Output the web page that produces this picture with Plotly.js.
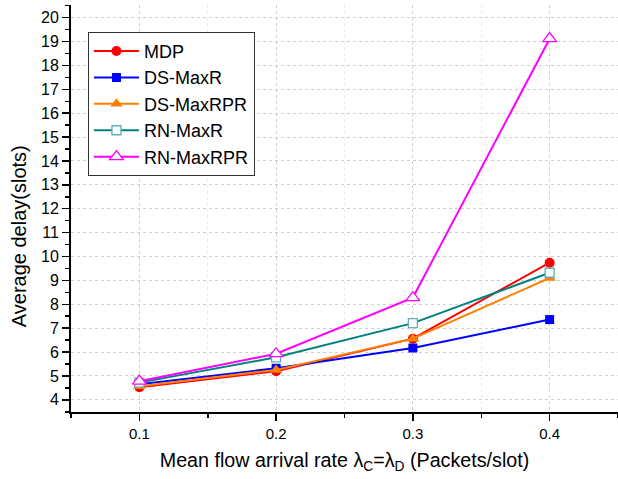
<!DOCTYPE html>
<html>
<head>
<meta charset="utf-8">
<script src="https://cdn.plot.ly/plotly-3.0.1.min.js"></script>
<style>html,body{margin:0;padding:0;background:#fff;}#chart{width:618px;height:479px;}</style>
</head>
<body>
<div id="chart"></div>
<script>
const xValues = [0.1, 0.2, 0.3, 0.4];
const seriesNames = ["MDP", "DS-MaxR", "DS-MaxRPR", "RN-MaxR", "RN-MaxRPR"];
const mdp = [4.53, 5.2, 6.56, 9.74];
const dsMaxR = [4.65, 5.32, 6.17, 7.36];
const dsMaxRPR = [4.57, 5.25, 6.56, 9.1];
const rnMaxR = [4.72, 5.78, 7.21, 9.32];
const rnMaxRPR = [4.78, 5.93, 8.28, 19.12];
const xTickVals = [0.1, 0.2, 0.3, 0.4];
const xTickText = ["0.1", "0.2", "0.3", "0.4"];
const yTickVals = [4,5,6,7,8,9,10,11,12,13,14,15,16,17,18,19,20];
const xTitle = "Mean flow arrival rate λ<sub>C</sub>=λ<sub>D</sub> (Packets/slot)";
const yTitle = "Average delay(slots)";

const styles = [
  {color:'#ff0000', symbol:'circle', fill:'#ff0000', size:10},
  {color:'#0000ff', symbol:'square', fill:'#0000ff', size:9},
  {color:'#ff8000', symbol:'triangle-up', fill:'#ff8000', size:11},
  {color:'#008080', symbol:'square', fill:'#ffffff', lineColor:'#5fb0b0', size:9},
  {color:'#ff00ff', symbol:'triangle-up', fill:'#ffffff', lineColor:'#ff00ff', size:12}
];
const allSeries = [mdp, dsMaxR, dsMaxRPR, rnMaxR, rnMaxRPR];

const traces = allSeries.map((ys, i) => ({
  x: xValues, y: ys, name: seriesNames[i], type: 'scatter', mode: 'lines+markers',
  line: {color: styles[i].color, width: 2},
  marker: {symbol: styles[i].symbol, size: styles[i].size, color: styles[i].fill,
           line: {color: styles[i].lineColor || styles[i].color, width: styles[i].lineColor ? 1.3 : 0}}
}));

const font = "'Liberation Sans', Arial, sans-serif";
const layout = {
  width: 618, height: 479,
  margin: {l: 71, r: 0, t: 5, b: 67},
  paper_bgcolor: '#ffffff', plot_bgcolor: '#ffffff',
  font: {family: font, color: '#000', size: 15},
  showlegend: true,
  legend: {x: 0.031, y: 0.934, xanchor: 'left', yanchor: 'top',
           bgcolor: '#ffffff', bordercolor: '#333333', borderwidth: 1,
           font: {family: font, size: 18, color: '#000'}, itemwidth: 45,
           tracegroupgap: 0},
  xaxis: {
    range: [0.05, 0.45], tickvals: xTickVals, ticktext: xTickText,
    ticks: 'outside', ticklen: 7, tickwidth: 1.5, tickcolor: '#000',
    showline: true, linecolor: '#000', linewidth: 2, mirror: false, zeroline: false,
    showgrid: true, gridcolor: '#cfcfcf', griddash: 'dot', gridwidth: 1,
    tickfont: {size: 15, family: font},
    minor: {dtick: 0.05, tick0: 0.05, ticks: 'outside', ticklen: 4, tickwidth: 1.5, tickcolor: '#000',
            showgrid: true, gridcolor: '#ececec', gridwidth: 1},
    title: {text: xTitle, font: {size: 19.7, family: font}, standoff: 12}
  },
  yaxis: {
    range: [3.49, 20.53], tickvals: yTickVals,
    ticks: 'outside', ticklen: 7, tickwidth: 1.5, tickcolor: '#000',
    showline: true, linecolor: '#000', linewidth: 2, mirror: false, zeroline: false,
    showgrid: true, gridcolor: '#cfcfcf', griddash: 'dot', gridwidth: 1,
    tickfont: {size: 16, family: font},
    minor: {dtick: 0.5, tick0: 3.5, ticks: 'outside', ticklen: 4, tickwidth: 1.5, tickcolor: '#000', showgrid: false}
  },
  annotations: [{
    text: yTitle, textangle: -90, showarrow: false,
    xref: 'paper', yref: 'paper', x: -0.095, y: 0.432, xanchor: 'center', yanchor: 'middle',
    font: {size: 20, family: font, color: '#000'}
  }]
};

Plotly.newPlot('chart', traces, layout, {displayModeBar: false, staticPlot: true});
</script>
</body>
</html>
